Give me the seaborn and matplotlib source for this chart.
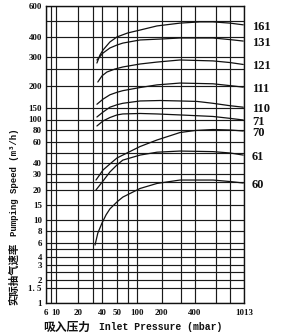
import numpy as np
import pandas as pd
import matplotlib
matplotlib.use("Agg")
import matplotlib.pyplot as plt
import seaborn as sns
from matplotlib.ticker import FixedLocator, FixedFormatter, NullLocator

# ---------------- data ----------------
x_ticks = [6, 8, 10, 20, 30, 40, 50, 70, 100, 200, 300, 400, 600, 800, 1013]
x_labels = ["6", "", "10", "20", "", "40", "50", "", "100", "200", "", "400", "", "", "1013"]
y_ticks = [1, 1.5, 2, 2.5, 3, 4, 5, 6, 8, 10, 15, 20, 25, 30, 40, 50, 60, 80,
           100, 150, 200, 250, 300, 400, 500, 600]
y_labels = ["1", "1. 5", "2", "", "3", "4", "", "6", "8", "10", "15", "20", "", "30",
            "40", "", "60", "80", "100", "150", "200", "", "300", "400", "", "600"]

models = ["161", "131", "121", "111", "110", "71", "70", "61", "60"]
p161 = [34, 37.5, 40.6, 45, 50, 70, 109, 175, 295, 440, 566, 800, 1000]
s161 = [275, 310, 333, 374, 402, 424, 441, 466, 484, 492, 492, 484, 473]
p131 = [34, 40.6, 45, 50, 60, 109, 191, 295, 566, 800, 1000]
s131 = [288, 319, 343, 358, 368, 385, 390, 396, 396, 387, 379]
p121 = [35, 40, 43, 48.5, 60, 109, 175, 295, 566, 800, 1000]
s121 = [211, 229, 241, 251, 259, 271, 279, 288, 284, 277, 269]
p111 = [34, 40.6, 45, 50, 60, 109, 175, 295, 566, 800, 1000]
s111 = [157, 168, 178, 184, 188, 196, 203, 208, 206, 201, 197]
p110 = [34, 40.6, 45, 50, 60, 109, 191, 295, 416, 566, 800, 1000]
s110 = [109, 129, 151, 156, 159, 164, 165, 164, 163, 159, 154, 151]
p71 = [34, 40.6, 45, 50, 60, 109, 175, 295, 566, 800, 1000]
s71 = [87.5, 97, 107, 117, 121, 123, 121, 117, 111, 104, 99]
p70 = [33, 40.6, 45, 50, 60, 109, 175, 295, 400, 566, 800, 1000]
s70 = [26, 33.2, 38.7, 44.5, 47.5, 55.6, 63, 75.7, 79.6, 81.3, 80.5, 78.7]
p61 = [33, 40.6, 45, 50, 60, 109, 175, 295, 566, 800, 1000]
s61 = [19.9, 25.4, 31.6, 37.8, 42.4, 47.5, 50.5, 51.5, 51, 49.8, 47.5]
p60 = [32, 35, 40, 42.5, 45, 50, 60, 109, 175, 295, 566, 800, 1000]
s60 = [5.6, 7.6, 9.4, 11.5, 13.5, 15.9, 17.4, 20.7, 23.8, 26, 26, 25.1, 24.1]

curves = {"161": (p161, s161), "131": (p131, s131), "121": (p121, s121),
          "111": (p111, s111), "110": (p110, s110), "71": (p71, s71),
          "70": (p70, s70), "61": (p61, s61), "60": (p60, s60)}

rows = []
for m in models:
    for p, s in zip(*curves[m]):
        rows.append({"model": m, "pressure": p, "speed": s})
df = pd.DataFrame(rows)

# ---------------- layout: the printed chart's uneven grid spacing (px) ----------------
x_tick_px = [0, 4.7, 10, 32, 47, 56, 71, 81.7, 91, 115.7, 134.7, 149, 170, 184, 198]
y_tick_px = [0, 15.3, 23.3, 31.3, 38, 46.3, 53.7, 60.5, 72, 83, 98, 113.3, 121.3, 129,
             140.3, 150.2, 161, 172.7, 183.5, 195.3, 217, 233.7, 245.7, 265.7, 282.3, 297]


def make_scale(vals, px):
    lv = np.log10(np.asarray(vals, float))
    px = np.asarray(px, float)

    def fwd(v):
        v = np.clip(np.asarray(v, float), 1e-9, None)
        return np.interp(np.log10(v), lv, px)

    def inv(u):
        return 10 ** np.interp(np.asarray(u, float), px, lv)
    return fwd, inv


sns.set_style("white")
plt.rcParams["font.family"] = ["Liberation Serif", "Noto Sans CJK SC"]

W, H = 282, 336
fig = plt.figure(figsize=(W / 100, H / 100), dpi=100)
ax = fig.add_axes([46 / W, 1 - 303 / H, 198 / W, 297 / H])

ax.set_xscale("function", functions=make_scale(x_ticks, x_tick_px))
ax.set_yscale("function", functions=make_scale(y_ticks, y_tick_px))

sns.lineplot(data=df, x="pressure", y="speed", hue="model", units="model",
             estimator=None, palette=["#111111"] * len(models), linewidth=0.9,
             legend=False, ax=ax, sort=True)

ax.set_xlim(6, 1013)
ax.set_ylim(1, 600)
ax.xaxis.set_major_locator(FixedLocator(x_ticks))
ax.xaxis.set_major_formatter(FixedFormatter(x_labels))
ax.yaxis.set_major_locator(FixedLocator(y_ticks))
ax.yaxis.set_major_formatter(FixedFormatter(y_labels))
ax.xaxis.set_minor_locator(NullLocator())
ax.yaxis.set_minor_locator(NullLocator())
ax.grid(True, which="major", color="#1a1a1a", linewidth=0.85)
ax.set_axisbelow(True)
ax.tick_params(axis="both", length=0, labelsize=6.5, colors="#111111")
ax.tick_params(axis="x", pad=4)
ax.tick_params(axis="y", pad=3)
for lab in ax.get_xticklabels() + ax.get_yticklabels():
    lab.set_fontweight("bold")
for sp in ax.spines.values():
    sp.set_color("#111111")
    sp.set_linewidth(1.0)
ax.set_xlabel("")
ax.set_ylabel("")

# model labels at the right end of each curve
for m in models:
    ax.annotate(m, xy=(1, curves[m][1][-1]), xycoords=ax.get_yaxis_transform(),
                xytext=(8, -2), textcoords="offset pixels", ha="left", va="center",
                fontsize=9, fontweight="bold", color="#111111",
                family=["Liberation Serif", "Noto Sans CJK SC"], annotation_clip=False)

# axis titles
fig.text(67 / W, 1 - 327 / H, "吸入压力", ha="center", va="center", fontsize=8.5,
         fontweight="bold", family=["Noto Sans CJK SC", "DejaVu Sans"], color="#111111")
fig.text(161 / W, 1 - 327 / H, "Inlet Pressure (mbar)", ha="center", va="center",
         fontsize=7, fontweight="bold", family=["Liberation Mono", "DejaVu Sans"], color="#111111")
fig.text(14 / W, 1 - 274 / H, "实际抽气速率", ha="center", va="center", rotation=90,
         fontsize=7.5, fontweight="bold", family=["Noto Sans CJK SC", "DejaVu Sans"], color="#111111")
fig.text(15 / W, 1 - 182 / H, "Pumping Speed (m³/h)", ha="center", va="center", rotation=90,
         fontsize=6.5, fontweight="bold", family=["Liberation Mono", "DejaVu Sans"], color="#111111")

fig.savefig("out.png", dpi=100)
